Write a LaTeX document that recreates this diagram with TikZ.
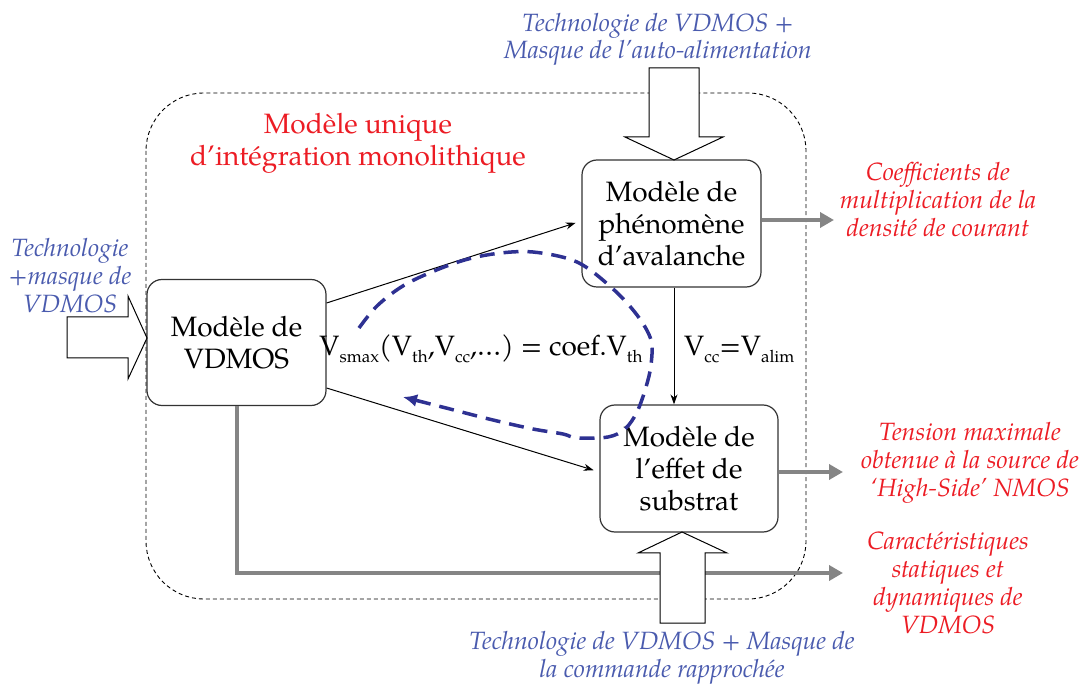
\documentclass[tikz,border=0pt]{standalone}
\usepackage{fontspec}
\setmainfont{TeX Gyre Pagella}
\usetikzlibrary{arrows.meta}
\definecolor{txtblue}{HTML}{4A5BAE}
\definecolor{txtred}{HTML}{EC1C24}
\definecolor{loopblue}{HTML}{2E3192}
\definecolor{arrgray}{HTML}{858585}
\definecolor{boxline}{HTML}{333333}
\newcommand\sbs[1]{\raisebox{-0.22em}{\fontsize{17}{17}\selectfont #1}}
\begin{document}
\begin{tikzpicture}[x=1pt,y=-1pt,
 model/.style={draw=boxline, line width=1.2pt, rounded corners=15pt, fill=white,
   minimum width=179pt, minimum height=126pt, align=center, inner sep=0pt,
   font=\fontsize{28}{32}\selectfont},
 conn/.style={-{Stealth[length=10pt,width=7pt]}, line width=1pt, black},
 grayarr/.style={-{Triangle[length=14pt,width=15pt]}, line width=3.5pt, arrgray},
 blockarr/.style={draw=black, line width=1pt, fill=white, line join=miter},
 bluelbl/.style={txtblue, align=center, inner sep=0pt, anchor=north, font=\fontsize{25}{27}\selectfont\itshape},
 redlbl/.style={txtred, align=center, inner sep=0pt, anchor=north, font=\fontsize{25}{28}\selectfont\itshape},
 frame/.style={draw=black, line width=0.9pt, dash pattern=on 4pt off 3pt, rounded corners=58pt},
 loop/.style={loopblue, line width=3.5pt, dash pattern=on 15pt off 9pt, -{Latex[length=14pt,width=13pt]}},
 eqtxt/.style={inner sep=0pt, font=\fontsize{28}{32}\selectfont},
]
\useasboundingbox (0,0) rectangle (1088,684);

% dashed frame
\draw[frame] (146,93) rectangle (806,599);

% boxes
\node[model] (vd) at (236.5,342.5) {Modèle de\\VDMOS};
\node[model, minimum height=127pt] (av) at (671.5,223.5) {Modèle de\\phénomène\\d’avalanche};
\node[model, minimum width=178pt, minimum height=127pt] (sub) at (689,468.5) {Modèle de\\l’effet de\\substrat};

% gray output arrows
\coordinate (o1) at (834,220);
\coordinate (o2) at (843,472);
\coordinate (o3) at (843,573);
\draw[grayarr] ([yshift=3.5pt]av.east) -- (o1);
\draw[grayarr] ([yshift=-3.5pt]sub.east) -- (o2);
\draw[grayarr] ([xshift=0.5pt]vd.south) |- (o3);

% block arrows (inputs)
\draw[blockarr] (649,68) -- (699,68) -- (699,137) -- (723,137) -- (674,160) -- (625,137) -- (649,137) -- cycle;
\draw[blockarr] (660,623) -- (705,623) -- (705,553) -- (727,553) -- (682,532) -- (638,553) -- (660,553) -- cycle;
\draw[blockarr] (67,317) -- (128,317) -- (128,296) -- (147,338) -- (128,379) -- (128,358) -- (67,358) -- cycle;

% connectors
\draw[conn, shorten >=6pt] ([yshift=39.5pt]vd.east) -- ([yshift=2.5pt]av.west);
\draw[conn, shorten >=6pt] ([yshift=-45.5pt]vd.east) -- ([yshift=-3.5pt]sub.west);
\draw[conn] ([xshift=2.5pt]av.south) -- ([xshift=2.5pt]av.south |- sub.north);

% feedback loop
\draw[loop] plot[smooth, tension=0.55] coordinates {(359,328) (378,305) (408,283) (455,263) (493,254) (533,252) (577,262) (612,288) (637,315) (651,340) (651,365) (646,387) (637,412) (625,429) (608,437) (577,438) (563,434) (533,429) (493,420) (450,409) (403,397)};

% equations
\node[eqtxt, anchor=base] (eq) at (481,356) {V\sbs{smax}(V\sbs{th},V\sbs{cc},\ldots) = coef.V\sbs{th}};
\node[eqtxt, anchor=base west] (vc) at (684,356) {V\sbs{cc}=V\sbs{alim}};

% labels
\node[bluelbl] (tin1) at (658,13) {Technologie de VDMOS +\\Masque de l’auto-alimentation};
\node[bluelbl, font=\fontsize{25}{28}\selectfont\itshape] (tin2) at (70,238) {Technologie\\+masque de\\VDMOS};
\node[bluelbl, font=\fontsize{25}{28}\selectfont\itshape] (tin3) at (662,631) {Technologie de VDMOS + Masque de\\la commande rapprochée};
\node[txtred, align=center, inner sep=0pt, anchor=north, font=\fontsize{28}{32}\selectfont] (title) at (358,113) {Modèle unique\\d’intégration monolithique};
\node[redlbl] (out1) at (938,162) {Coefficients de\\multiplication de la\\densité de courant};
\node[redlbl] (out2) at (970,422) {Tension maximale\\obtenue à la source de\\‘High-Side’ NMOS};
\node[redlbl] (out3) at (948,532) {Caractéristiques\\statiques et\\dynamiques de\\VDMOS};
\end{tikzpicture}
\end{document}
